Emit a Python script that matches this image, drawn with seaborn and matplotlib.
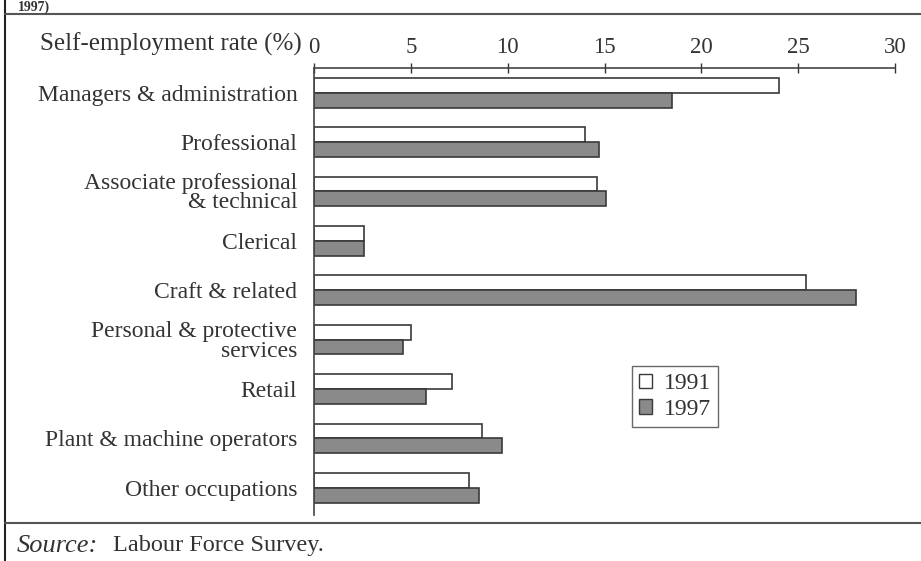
import matplotlib
matplotlib.use("Agg")
import matplotlib.pyplot as plt
import seaborn as sns
import pandas as pd
import numpy as np
from matplotlib.lines import Line2D
from matplotlib.patches import Patch

categories = ["Managers & administration", "Professional",
              "Associate professional\n& technical", "Clerical",
              "Craft & related", "Personal & protective\nservices",
              "Retail", "Plant & machine operators", "Other occupations"]
rate_1991 = [24.0, 14.0, 14.6, 2.6, 25.4, 5.0, 7.1, 8.7, 8.0]
rate_1997 = [18.5, 14.7, 15.1, 2.6, 28.0, 4.6, 5.8, 9.7, 8.5]
years = ["1991", "1997"]
x_ticks = [0, 5, 10, 15, 20, 25, 30]

df = pd.DataFrame({
    "Occupation": categories * 2,
    "Rate": rate_1991 + rate_1997,
    "Year": [years[0]] * len(categories) + [years[1]] * len(categories),
})

sns.set_theme(style="white")
plt.rcParams["font.family"] = ["Liberation Serif", "DejaVu Serif"]

fig = plt.figure(figsize=(9.21, 5.61), dpi=100)
fig.patch.set_facecolor("white")
ax = fig.add_axes([314 / 921, 1 - 515 / 561, (895 - 314) / 921, (515 - 68) / 561])

palette = {"1991": "white", "1997": "#8a8a8a"}
sns.barplot(data=df, y="Occupation", x="Rate", hue="Year", order=categories,
            hue_order=years, palette=palette, orient="h", width=0.6,
            edgecolor="#3a3a3a", linewidth=1.2, ax=ax, legend=False,
            saturation=1)

TXT = "#333333"
ax.set_xlim(0, 30)
ax.set_ylim(len(categories) - 0.45, -0.5)
ax.set_xticks(x_ticks)
ax.xaxis.set_ticks_position("top")
ax.xaxis.set_label_position("top")
ax.tick_params(axis="x", direction="inout", length=7, width=1, color=TXT,
               labelsize=16.5, pad=4, labelcolor=TXT)
ax.set_xlabel("")
ax.set_ylabel("")
ax.set_yticks(range(len(categories)))
ax.set_yticklabels(categories, fontsize=17, color=TXT, linespacing=0.9)
ax.tick_params(axis="y", length=0, pad=12)
ax.set_yticks(np.arange(-0.5, len(categories) + 0.5, 1), minor=True)
ax.tick_params(axis="y", which="minor", direction="inout", length=7, width=1, color=TXT)

for s in ["right", "bottom"]:
    ax.spines[s].set_visible(False)
for s in ["top", "left"]:
    ax.spines[s].set_visible(True)
    ax.spines[s].set_color("#444444")
    ax.spines[s].set_linewidth(1.2)
ax.set_facecolor("white")

fig.text(302 / 921, 1 - 44 / 561, "Self-employment rate (%)", ha="right", va="center",
         fontsize=18, color=TXT)

handles = [Patch(facecolor="white", edgecolor="#3a3a3a", label="1991"),
           Patch(facecolor="#8a8a8a", edgecolor="#3a3a3a", label="1997")]
leg = ax.legend(handles=handles, loc="upper left",
                bbox_to_anchor=((632 - 314) / 581, 1 - (366 - 68) / 447),
                frameon=True, fontsize=17, handlelength=0.55, handleheight=0.55,
                handletextpad=0.5, borderpad=0.3, labelspacing=0.2,
                borderaxespad=0, fancybox=False, edgecolor="#444444")
for t in leg.get_texts():
    t.set_color(TXT)

# frame lines
fig.add_artist(Line2D([5 / 921, 5 / 921], [0, 1], color="#222222", lw=1.5))
fig.add_artist(Line2D([5 / 921, 1], [1 - 14 / 561, 1 - 14 / 561], color="#555555", lw=1.5))
fig.add_artist(Line2D([5 / 921, 1], [1 - 523 / 561, 1 - 523 / 561], color="#555555", lw=1.5))

fig.text(18 / 921, 1 - 1 / 561, "1997)", ha="left", va="top", fontsize=10,
         color=TXT, fontweight="bold")
fig.text(17 / 921, 1 - 546 / 561, "Source:", ha="left", va="center", fontsize=19,
         color=TXT, style="italic")
fig.text(113 / 921, 1 - 546 / 561, "Labour Force Survey.", ha="left", va="center",
         fontsize=17.5, color=TXT)

fig.savefig("out.png", dpi=100, facecolor="white")
